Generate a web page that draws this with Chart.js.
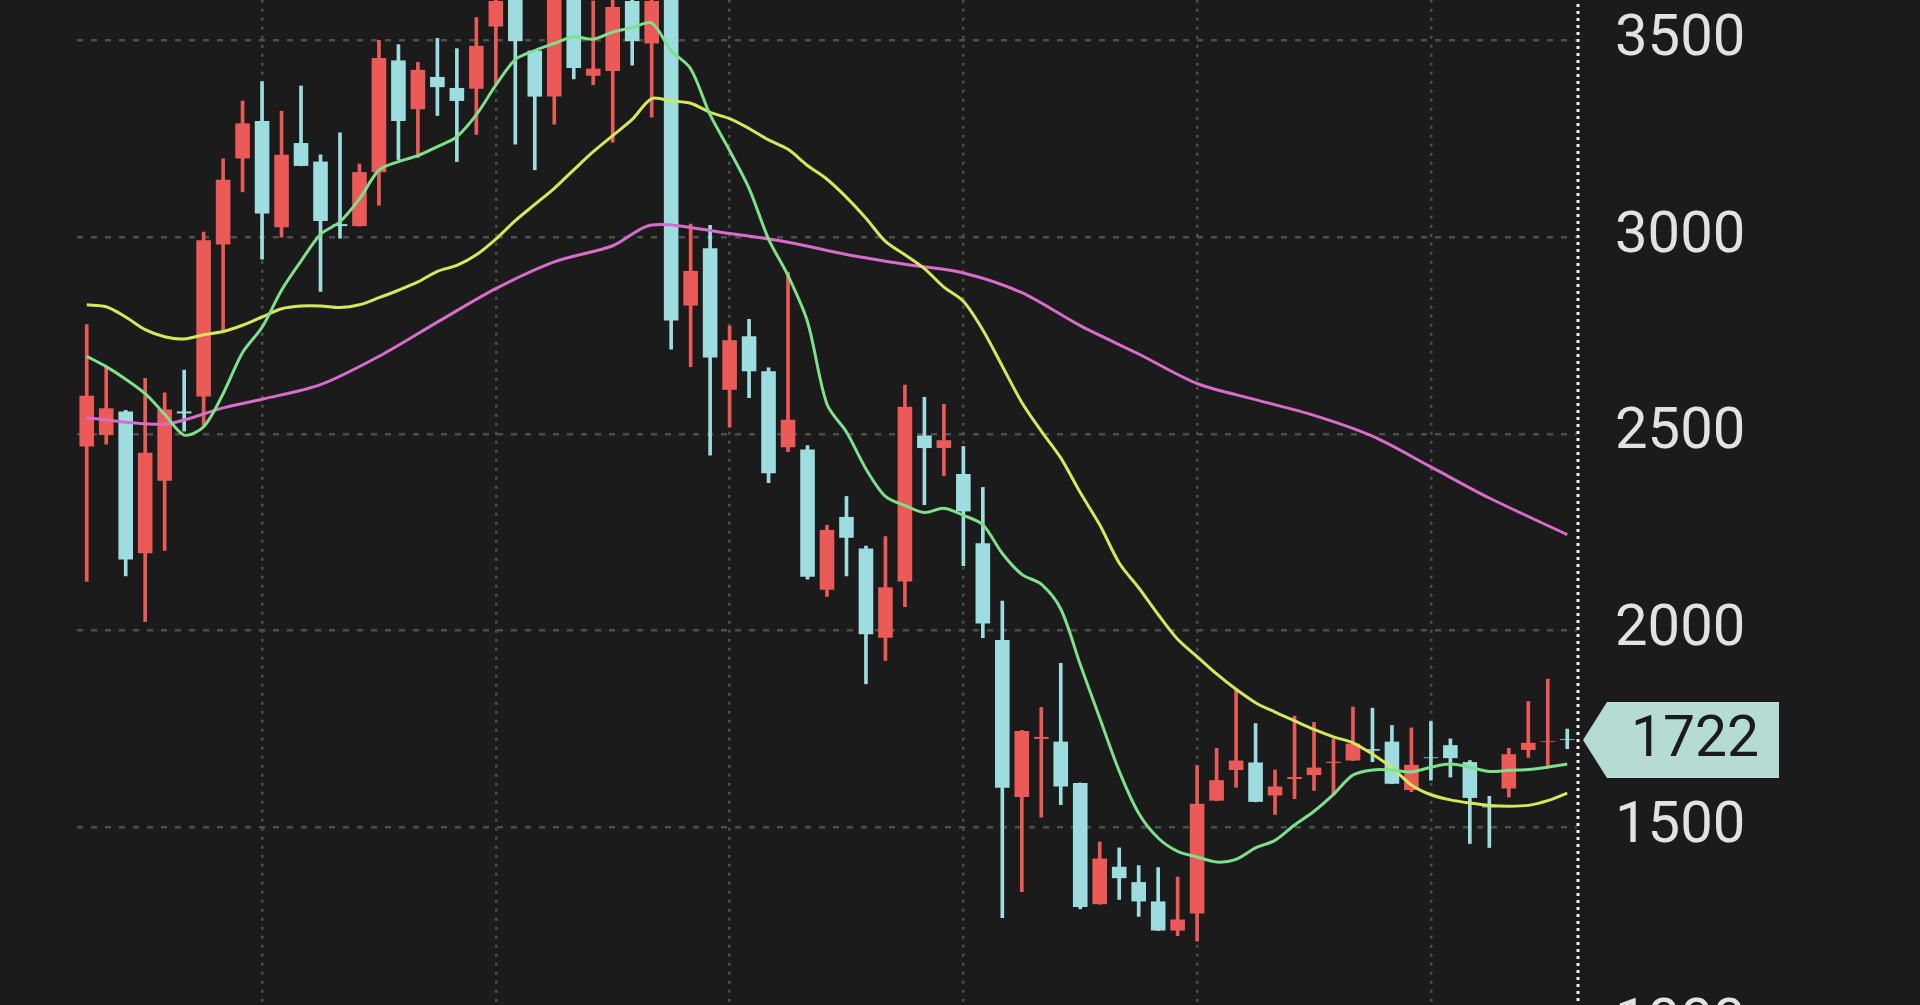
<!DOCTYPE html>
<html><head><meta charset="utf-8">
<script src="https://cdn.jsdelivr.net/npm/chart.js@4/dist/chart.umd.min.js"></script>
<style>html,body{margin:0;padding:0;background:#1b1b1b;overflow:hidden;width:1920px;height:1005px}
#w{position:absolute;left:0;top:-73px;width:1920px;height:1170px}</style></head>
<body><div id="w"><canvas id="c"></canvas></div>
<script>
const opens  = [2468,2497,2557,2197,2381,2557,2595,2981,3200,3295,3025,3239,3192,3033,3028,3165,3449,3325,3407,3379,3377,3535,3620,3474,3357,3640,3410,3422,3600,3492,3620,2826,2972,2612,2748,2659,2466,2460,2104,2289,2209,1982,2125,2496,2464,2398,2222,1976,1577,1725,1718,1613,1305,1400,1361,1312,1238,1281,1568,1646,1665,1581,1623,1633,1664,1670,1699,1718,1595,1678,1709,1666,1554,1599,1697,1717,1724];
const highs  = [2778,2671,2560,2641,2604,2662,3013,3199,3346,3395,3320,3384,3209,3265,3186,3500,3489,3444,3505,3479,3558,3650,3680,3474,3650,3680,3600,3620,3650,3650,3650,3033,3030,2774,2791,2668,2911,2470,2268,2341,2215,2239,2624,2593,2575,2468,2364,2075,1747,1805,1917,1613,1463,1448,1403,1398,1374,1657,1701,1849,1764,1646,1783,1767,1725,1806,1803,1759,1753,1769,1725,1670,1579,1701,1820,1877,1750];
const lows   = [2125,2474,2139,2023,2204,2507,2523,2757,3115,2944,3000,3181,2862,2997,3028,3081,3197,3202,3309,3192,3261,3389,3236,3171,3287,3402,3387,3241,3437,3305,2715,2671,2446,2517,2592,2376,2455,2131,2087,2139,1865,1924,2061,2320,2394,2165,1982,1271,1337,1526,1558,1293,1305,1317,1274,1238,1225,1211,1568,1602,1565,1533,1573,1594,1582,1670,1667,1611,1591,1620,1628,1459,1449,1577,1678,1653,1700];
const closes = [2597,2565,2181,2452,2562,2552,2992,3146,3289,3060,3209,3181,3041,3028,3165,3455,3295,3425,3381,3346,3486,3600,3498,3357,3610,3430,3428,3585,3498,3600,2788,2914,2694,2738,2659,2400,2536,2137,2256,2236,1991,2110,2569,2464,2484,2303,2018,1601,1745,1730,1604,1298,1421,1371,1312,1238,1266,1560,1620,1670,1565,1604,1628,1652,1667,1713,1695,1611,1659,1676,1676,1575,1551,1686,1715,1719,1722];
const maShort = [2697,2671,2639,2602,2550,2497,2518,2602,2707,2771,2865,2939,3007,3039,3097,3170,3192,3207,3230,3255,3311,3386,3451,3474,3492,3509,3503,3521,3532,3544,3474,3428,3311,3220,3124,2995,2902,2785,2575,2505,2411,2341,2318,2300,2311,2293,2269,2196,2143,2118,2055,1914,1778,1643,1536,1473,1439,1425,1412,1419,1448,1467,1506,1541,1584,1633,1646,1646,1641,1653,1661,1653,1642,1645,1647,1653,1661];
const maMid = [2828,2823,2797,2765,2747,2741,2752,2760,2776,2797,2818,2825,2825,2821,2828,2846,2865,2886,2913,2928,2955,2995,3042,3083,3124,3171,3217,3258,3299,3352,3346,3340,3317,3301,3276,3247,3223,3182,3147,3101,3048,2989,2955,2920,2873,2837,2764,2672,2580,2507,2439,2351,2269,2172,2109,2041,1978,1934,1890,1851,1817,1793,1771,1749,1730,1715,1686,1652,1608,1583,1570,1562,1556,1554,1556,1568,1587];
const maLong = [2541,null,null,null,2525,null,null,2566,null,2588,null,null,2625,null,null,2697,null,null,2784,null,null,2869,null,null,2937,null,null,2978,null,3031,null,null,null,3009,null,null,2987,null,null,2956,null,null,2931,null,null,2909,null,null,2859,null,null,2775,null,null,2703,null,null,2628,null,null,2587,null,null,2547,null,null,2494,null,null,2416,null,null,2337,null,null,null,2244];
const yTicks = [1000,1500,2000,2500,3000,3500];
const lastPrice = 1722;
const gridCandles = [9,21,33,45,57,69];

const labels = opens.map((_,i)=>String(i));
const RED='#ec5a57', CYAN='#9ddde0';
const col = opens.map((o,i)=> closes[i]>=o ? RED : CYAN);
const bodies = opens.map((o,i)=>[o,closes[i]]);
const wicks = lows.map((l,i)=>[l,highs[i]]);

const overlay = {
  id:'overlay',
  afterDatasetsDraw(ch){
    const {ctx, chartArea:a, scales:{y}} = ch;
    ctx.save();
    ctx.strokeStyle='#f2f2f2'; ctx.lineWidth=3; ctx.setLineDash([3,4]);
    ctx.beginPath(); ctx.moveTo(a.right+1,0); ctx.lineTo(a.right+1,ch.height); ctx.stroke();
    ctx.setLineDash([]);
    const py = y.getPixelForValue(lastPrice);
    const x0=a.right+6, x1=x0+24, x2=x0+196, h=38;
    ctx.fillStyle='#b6dbd4';
    ctx.beginPath(); ctx.moveTo(x0,py); ctx.lineTo(x1,py-h); ctx.lineTo(x2,py-h); ctx.lineTo(x2,py+h); ctx.lineTo(x1,py+h); ctx.closePath(); ctx.fill();
    ctx.fillStyle='#1b1b1b'; ctx.font='57px Roboto'; ctx.textAlign='center'; ctx.textBaseline='middle';
    ctx.fillText(String(lastPrice),(x1+x2)/2+2,py+2);
    ctx.restore();
  }
};

new Chart(document.getElementById('c'),{
  data:{labels,datasets:[
    {type:'line',data:maShort,borderColor:'#7ee08a',borderWidth:3,pointRadius:0,tension:0.3,order:0},
    {type:'line',data:maMid,borderColor:'#d4e85c',borderWidth:3,pointRadius:0,tension:0.3,order:0},
    {type:'line',data:maLong,borderColor:'#d86ccb',borderWidth:3,pointRadius:0,tension:0.3,spanGaps:true,order:0},
    {type:'bar',data:bodies,backgroundColor:col,grouped:false,barPercentage:0.75,categoryPercentage:1,order:1,clip:false},
    {type:'bar',data:wicks,backgroundColor:col,grouped:false,barThickness:3,order:2,clip:false}
  ]},
  options:{
    responsive:true,maintainAspectRatio:false,animation:false,
    layout:{padding:{left:77,top:0,bottom:0,right:0}},
    plugins:{legend:{display:false},tooltip:{enabled:false}},
    scales:{
      x:{ticks:{display:false},border:{display:false,dash:[3,6]},
         grid:{offset:false,drawTicks:false,lineWidth:2.5,
               color:c=> gridCandles.includes(c.index)?'#4e4e4e':'transparent'}},
      y:{position:'right',min:1000,max:3603,border:{display:false,dash:[6,8]},
         afterBuildTicks:ax=>{ax.ticks=yTicks.map(v=>({value:v}));},
         afterFit:ax=>{ax.width=343;},
         ticks:{color:'#e2e2e2',font:{family:'Roboto',size:58},padding:38,callback:v=>String(v)},
         grid:{drawTicks:false,color:'#4e4e4e',lineWidth:2.5}}
    }
  },
  plugins:[overlay]
});
</script></body></html>
